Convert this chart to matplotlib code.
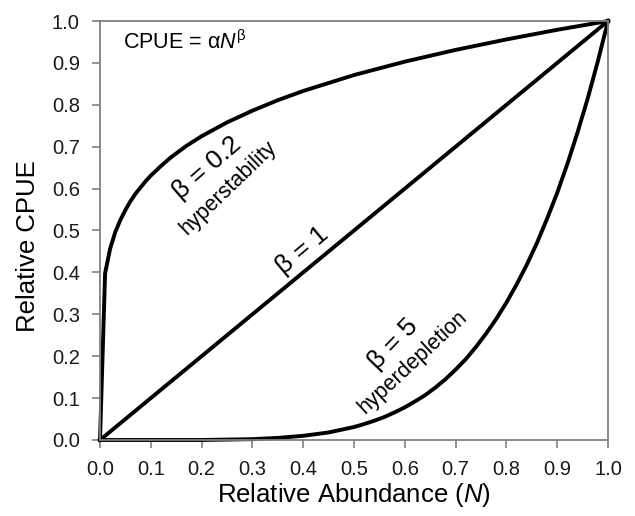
import matplotlib
matplotlib.use("Agg")
import matplotlib.pyplot as plt

plt.rcParams['font.family'] = ['Liberation Sans', 'DejaVu Sans']
plt.rcParams['mathtext.fontset'] = 'custom'
plt.rcParams['mathtext.rm'] = 'Liberation Sans'
plt.rcParams['mathtext.it'] = 'Liberation Sans:italic'

# values
x_stable = [0.0, 0.01, 0.02, 0.03, 0.04, 0.05, 0.06, 0.07, 0.08, 0.09, 0.10, 0.12, 0.14,
            0.17, 0.20, 0.25, 0.30, 0.35, 0.40, 0.45, 0.50, 0.60, 0.70, 0.80, 0.90, 1.0]
y_stable = [0.0, 0.398, 0.457, 0.496, 0.525, 0.549, 0.570, 0.588, 0.603, 0.618, 0.631, 0.654, 0.675,
            0.702, 0.725, 0.758, 0.786, 0.811, 0.833, 0.852, 0.871, 0.903, 0.931, 0.956, 0.979, 1.0]

x_linear = [0.0, 1.0]
y_linear = [0.0, 1.0]

x_deplete = [0.0, 0.10, 0.20, 0.25, 0.30, 0.35, 0.40, 0.45, 0.50, 0.52, 0.54, 0.56, 0.58,
             0.60, 0.62, 0.64, 0.66, 0.68, 0.70, 0.72, 0.74, 0.76, 0.78, 0.80, 0.82, 0.84,
             0.86, 0.88, 0.90, 0.92, 0.94, 0.96, 0.98, 1.0]
y_deplete = [0.0, 0.0, 0.0, 0.001, 0.002, 0.005, 0.010, 0.018, 0.031, 0.038, 0.046, 0.055, 0.066,
             0.078, 0.092, 0.107, 0.125, 0.145, 0.168, 0.193, 0.222, 0.254, 0.289, 0.328, 0.371, 0.418,
             0.470, 0.528, 0.590, 0.659, 0.734, 0.815, 0.904, 1.0]

ticks = [0.0, 0.1, 0.2, 0.3, 0.4, 0.5, 0.6, 0.7, 0.8, 0.9, 1.0]

fig = plt.figure(figsize=(6.35, 5.16), dpi=100)
ax = fig.add_axes([0.1575, 0.1473, 0.80, 0.812])

for xs, ys in [(x_stable, y_stable), (x_linear, y_linear), (x_deplete, y_deplete)]:
    ax.plot(xs, ys, color='black', lw=2.8, solid_joinstyle='round', clip_on=False)

ax.set_xlim(0, 1)
ax.set_ylim(0, 1)
ax.set_xticks(ticks)
ax.set_yticks(ticks)
ax.set_xticklabels([f"{t:.1f}" for t in ticks])
ax.set_yticklabels([f"{t:.1f}" for t in ticks])
ax.tick_params(direction='out', length=5.5, width=1.2, color='#808080',
               labelsize=14.5, labelcolor='#1a1a1a', pad=9)
for s in ax.spines.values():
    s.set_color('#808080')
    s.set_linewidth(1.3)

# axis titles placed where the reference has them
ax.text(0.5, -0.131, r'Relative Abundance ($\mathit{N}$)', fontsize=18.5,
        ha='center', va='center', transform=ax.transAxes)
ax.text(-0.142, 0.462, 'Relative CPUE', fontsize=18.5, rotation=90,
        ha='center', va='center', transform=ax.transAxes)

ax.text(0.045, 0.95, r'CPUE = α$\mathit{N}^{\mathrm{β}}$', fontsize=15.5,
        ha='left', va='center')

ax.text(0.21, 0.65, 'β = 0.2', fontsize=19, rotation=41, ha='center', va='center',
        rotation_mode='anchor')
ax.text(0.252, 0.601, 'hyperstability', fontsize=15.5, rotation=44, ha='center', va='center',
        rotation_mode='anchor')
ax.text(0.398, 0.452, 'β = 1', fontsize=19, rotation=40, ha='center', va='center',
        rotation_mode='anchor')
ax.text(0.577, 0.229, 'β = 5', fontsize=19, rotation=46, ha='center', va='center',
        rotation_mode='anchor')
ax.text(0.616, 0.186, 'hyperdepletion', fontsize=15.5, rotation=43, ha='center', va='center',
        rotation_mode='anchor')

fig.savefig('out.png', dpi=100)
